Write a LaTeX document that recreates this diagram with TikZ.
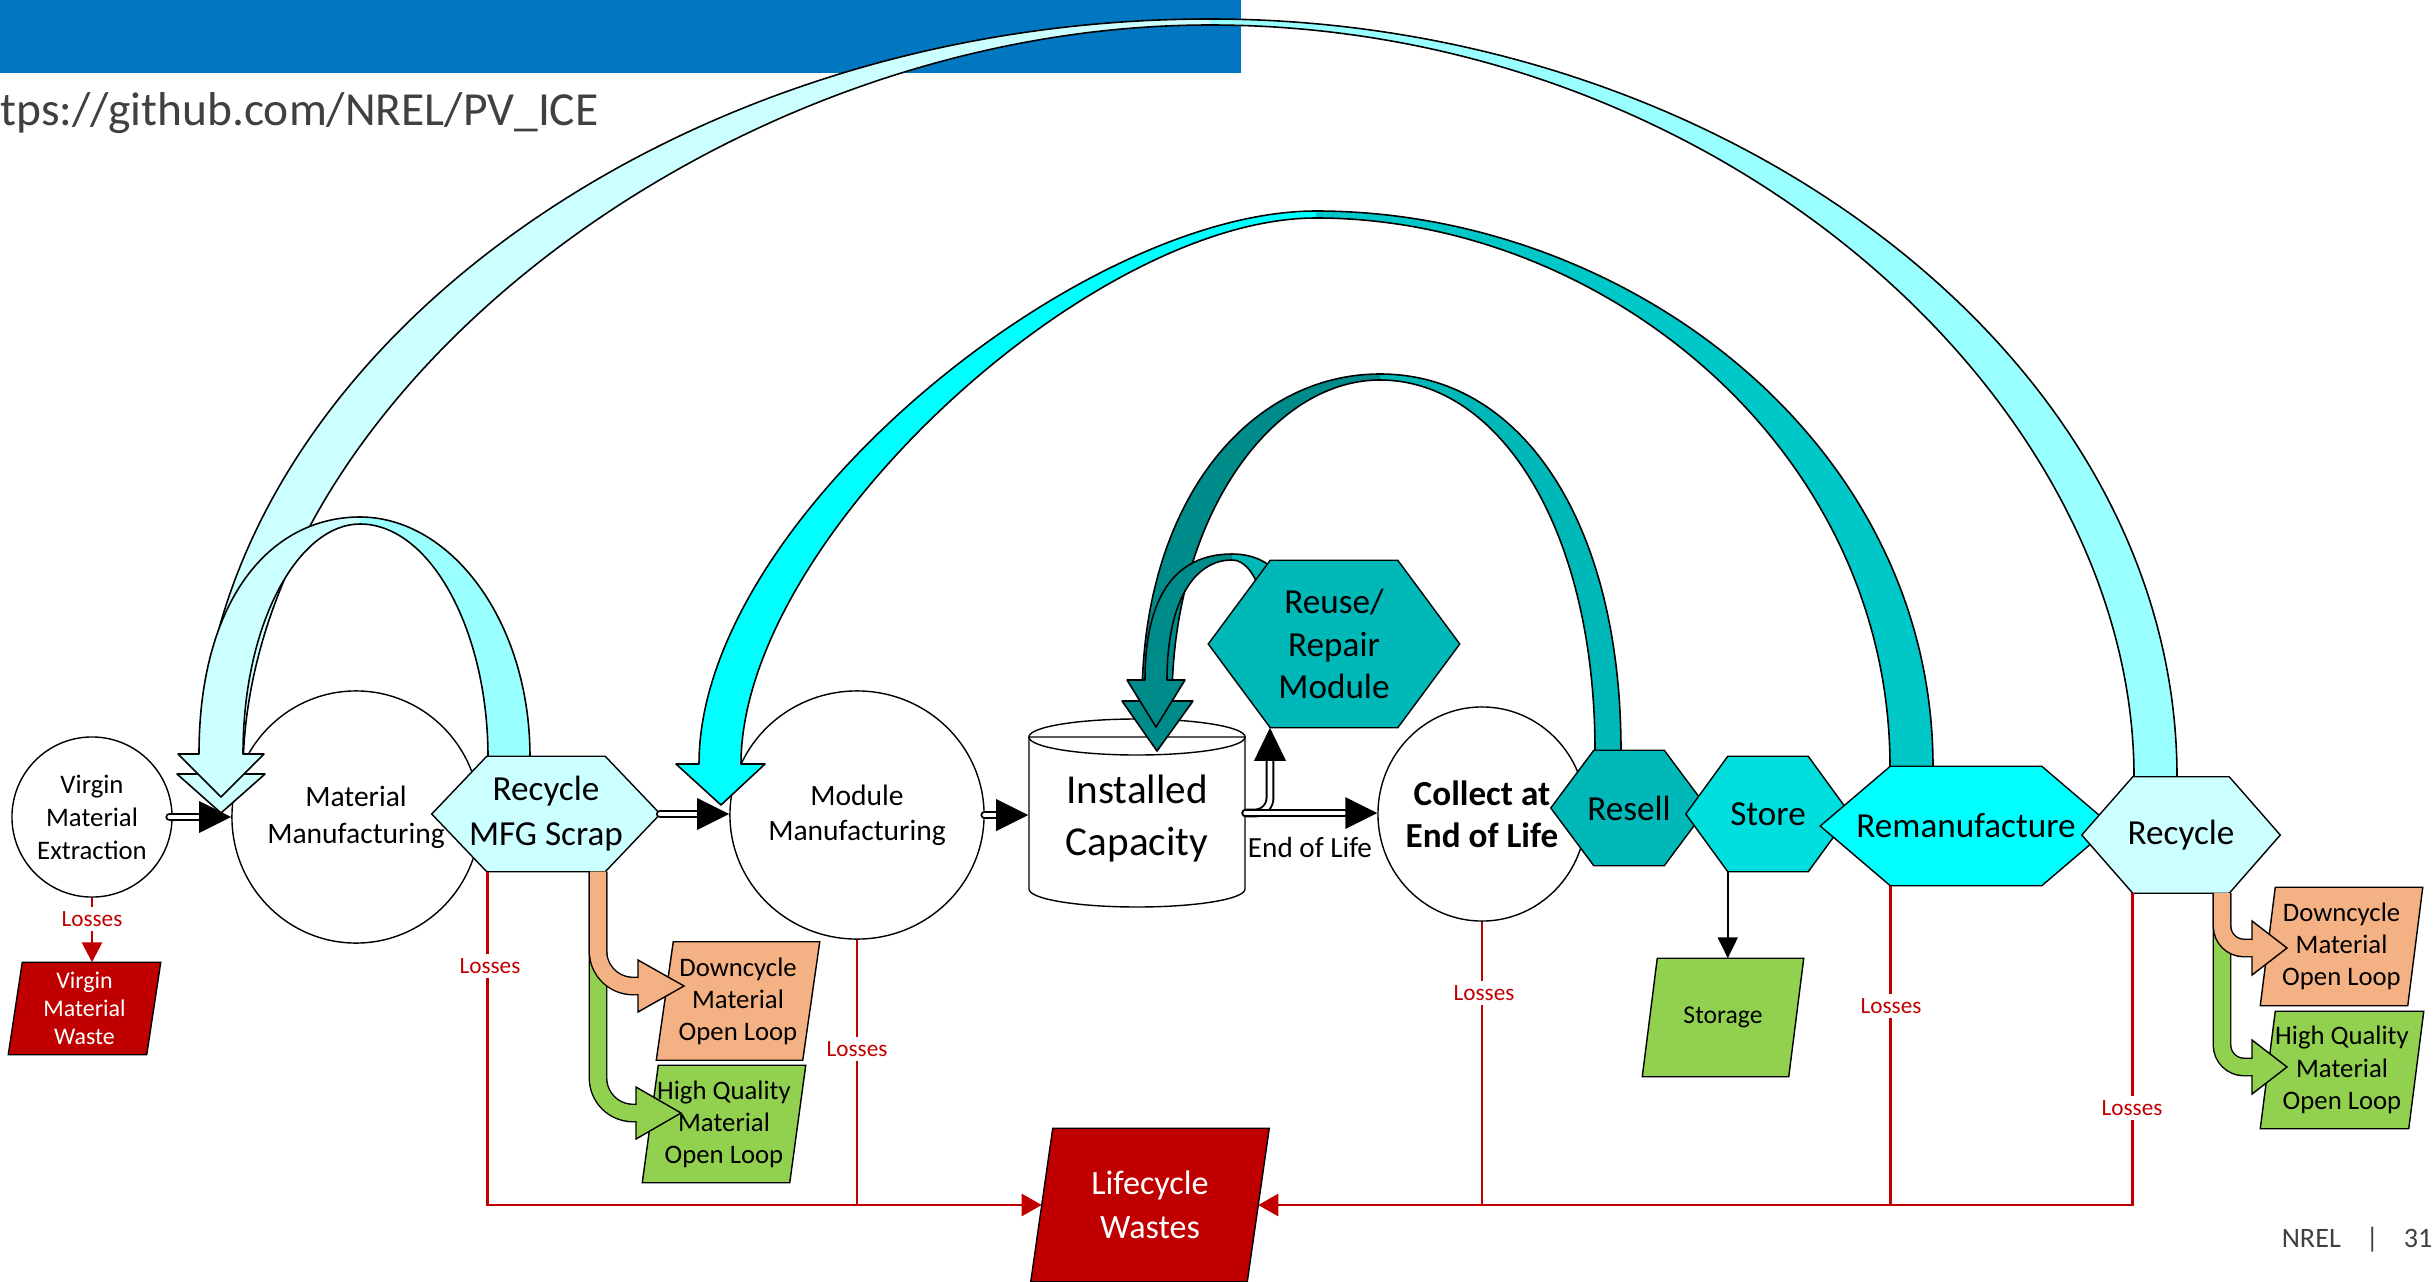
\documentclass[tikz,border=0pt]{standalone}
\usepackage{fontspec}
\setmainfont{Carlito}
\usetikzlibrary{arrows.meta}
\definecolor{cBanner}{HTML}{0077C0}
\definecolor{cGray}{HTML}{404040}
\definecolor{cLight}{HTML}{CCFFFF}
\definecolor{cLightB}{HTML}{99FFFF}
\definecolor{cCyan}{HTML}{00FFFF}
\definecolor{cCyanD}{HTML}{00C8C8}
\definecolor{cTeal}{HTML}{00B8B8}
\definecolor{cTealD}{HTML}{008B8B}
\definecolor{cStore}{HTML}{00DEDE}
\definecolor{cOrange}{HTML}{F4B183}
\definecolor{cGreen}{HTML}{92D050}
\definecolor{cRed}{HTML}{C00000}
\newcommand\myfs[2]{\fontsize{#1pt}{#2pt}\selectfont}
\newcommand\hexa[3]{\filldraw[fill=#3, outl] (#1.west) -- ([xshift=#2]#1.north west) -- ([xshift=-#2]#1.north east) -- (#1.east) -- ([xshift=-#2]#1.south east) -- ([xshift=#2]#1.south west) -- cycle;}
\newcommand\para[3]{\filldraw[fill=#3, outl] ([xshift=#2]#1.north west) -- (#1.north east) -- ([xshift=-#2]#1.south east) -- (#1.south west) -- cycle;}
\newcommand\rhead[1]{\fill[black] (#1) -- ++(-32,-16) -- ++(0,32) -- cycle;}
\pgfdeclarelayer{bg}
\pgfsetlayers{bg,main}
\begin{document}
\begin{tikzpicture}[x=0.01cm,y=-0.01cm,
  lbl/.style={inner sep=0pt, align=center, text=black},
  loss/.style={fill=white, inner sep=1.2pt, text=cRed, font=\myfs{6.6}{8}},
  dbl/.style={draw=black, double=white, line width=0.55pt, double distance=1.4pt, line cap=round},
  redl/.style={draw=cRed, line width=0.8pt},
  outl/.style={draw=black, line width=0.4pt},
  band/.style={draw=black, line width=0.45pt, line join=round},
  flow/.style={draw=black, line width=0.4pt, double distance=1.6mm}]
\useasboundingbox (0,0) rectangle (2433,1282);

% ---------- text nodes ----------
\node[anchor=west, inner sep=0pt, text=cGray, font=\myfs{13.5}{16}] (url) at (0,113) {tps://github.com/NREL/PV\_ICE};
\node[anchor=east, inner sep=0pt, text=cGray, font=\myfs{8}{10}] (nrel) at (2433,1240) {NREL\hspace{2.5mm}|\hspace{2.5mm}31};

\node[lbl, minimum width=1.60cm, minimum height=1.60cm, font=\myfs{7.6}{9.4}] (virgin) at (92,817) {Virgin\\Material\\Extraction};
\node[lbl, minimum width=2.48cm, minimum height=2.52cm, font=\myfs{8.4}{10.5}] (mm) at (356,817) {Material\\Manufacturing};
\node[lbl, minimum width=2.27cm, minimum height=1.14cm, font=\myfs{10}{12.8}] (scrap) at (546,814) {Recycle\\MFG Scrap};
\node[lbl, minimum width=2.54cm, minimum height=2.48cm, font=\myfs{8.4}{10}] (module) at (857,815) {Module\\Manufacturing};
\node[lbl, minimum width=2.16cm, minimum height=1.88cm] (inst) at (1137,813) {};
\node[lbl, font=\myfs{11.7}{14.8}] (instT) at (1137,819) {Installed\\Capacity};
\node[lbl, minimum width=2.50cm, minimum height=1.66cm, font=\myfs{10}{12.2}] (reuse) at (1334,644) {Reuse/\\Repair\\Module};
\node[lbl, minimum width=2.08cm, minimum height=2.14cm, font=\myfs{10}{12}\bfseries] (collect) at (1482,814) {Collect at\\End of Life};
\node[lbl, minimum width=1.55cm, minimum height=1.14cm, font=\myfs{10}{12}] (resell) at (1629,808) {Resell};
\node[lbl, minimum width=1.63cm, minimum height=1.14cm, font=\myfs{10}{12}] (store) at (1768,814) {Store};
\node[lbl, minimum width=2.90cm, minimum height=1.18cm, font=\myfs{10}{12}] (reman) at (1966,826) {Remanufacture};
\node[lbl, minimum width=1.97cm, minimum height=1.15cm, font=\myfs{10}{12}] (recyc) at (2181,835) {Recycle};
\node[lbl, minimum width=1.51cm, minimum height=0.91cm, text=white, font=\myfs{6.8}{8}] (vwaste) at (84.5,1008.5) {Virgin\\Material\\Waste};
\node[lbl, minimum width=1.62cm, minimum height=1.17cm, font=\myfs{7.6}{9.1}] (down1) at (738,1001) {Downcycle\\Material\\Open Loop};
\node[lbl, minimum width=1.62cm, minimum height=1.16cm, font=\myfs{7.6}{9.1}] (hq1) at (724,1124) {High Quality\\Material\\Open Loop};
\node[lbl, minimum width=1.60cm, minimum height=1.17cm, font=\myfs{7.3}{9}] (storage) at (1723,1017.5) {Storage};
\node[lbl, minimum width=2.37cm, minimum height=1.52cm, text=white, font=\myfs{9.7}{12.5}] (lcw) at (1150,1205) {Lifecycle\\Wastes};
\node[lbl, minimum width=1.61cm, minimum height=1.17cm, font=\myfs{7.6}{9.2}] (down2) at (2341.5,946.5) {Downcycle\\Material\\Open Loop};
\node[lbl, minimum width=1.62cm, minimum height=1.16cm, font=\myfs{7.6}{9.2}] (hq2) at (2342,1070) {High Quality\\Material\\Open Loop};
\node[lbl, font=\myfs{8.3}{10}] (eol) at (1310,847) {End of Life};

\node[loss] (l0) at (92,919) {Losses};
\node[loss] (l1) at (490,966) {Losses};
\node[loss] (l2) at (857,1049) {Losses};
\node[loss] (l3) at (1484,993) {Losses};
\node[loss] (l4) at (1891,1006) {Losses};
\node[loss] (l5) at (2132,1108) {Losses};

\coordinate (rb) at ([xshift=-6.4mm]reuse.south);
\coordinate (scrapL) at ([xshift=5.6mm]scrap.south west);
\coordinate (remanL) at ([xshift=7mm]reman.south west);
\coordinate (recycL) at ([xshift=5.1mm]recyc.south west);
\coordinate (storeL) at ([xshift=4.2mm]store.south west);

\begin{pgfonlayer}{bg}
% banner
\fill[cBanner] (0,0) rectangle (1241,73);
% round shapes
\filldraw[fill=white, outl] (virgin.center) ellipse [x radius=0.80cm, y radius=0.80cm];
\filldraw[fill=white, outl] (mm.center) ellipse [x radius=1.24cm, y radius=1.26cm];
\filldraw[fill=white, outl] (module.center) ellipse [x radius=1.27cm, y radius=1.24cm];
\filldraw[fill=white, outl] (collect.center) ellipse [x radius=1.04cm, y radius=1.07cm];
% cylinder
\filldraw[fill=white, outl] (1029,737) -- (1029,889) .. controls (1029,899) and (1077,907) .. (1137,907) .. controls (1197,907) and (1245,899) .. (1245,889) -- (1245,737) -- cycle;
\draw[outl] (1137,737) ellipse [x radius=1.08cm, y radius=0.18cm];

% ---------- curved return arrows ----------
% Recycle -> Material Manufacturing
\filldraw[band, fill=cLight] (1210,19) .. controls (660,19) and (199,370) .. (199,774) -- (177,774) -- (221,813) -- (265,774) -- (243,774) .. controls (243,400) and (720,25) .. (1210,25);
\filldraw[band, fill=cLightB] (1210,19) .. controls (1725,19) and (2177,357) .. (2177,777) -- (2134,777) .. controls (2134,400) and (1720,25) .. (1210,25);
% Recycle MFG Scrap -> Material Manufacturing
\filldraw[band, fill=cLight] (360,517) .. controls (270,517) and (199,600) .. (199,754) -- (178,754) -- (221,797) -- (264,754) -- (243,754) .. controls (243,620) and (300,524) .. (360,524);
\filldraw[band, fill=cLightB] (360,517) .. controls (450,517) and (530,620) .. (530,757) -- (488,757) .. controls (488,630) and (430,524) .. (360,524);
% Remanufacture -> Module Manufacturing
\filldraw[band, fill=cCyan] (1316,211) .. controls (1080,211) and (699,520) .. (699,764) -- (676,764) -- (721,805) -- (765,764) -- (741,764) .. controls (741,540) and (1090,218) .. (1316,218);
\filldraw[band, fill=cCyanD] (1316,211) .. controls (1625,211) and (1933,440) .. (1933,767) -- (1890,767) .. controls (1890,450) and (1605,218) .. (1316,218);
% Resell -> Installed Capacity
\filldraw[band, fill=cTealD] (1380,374) .. controls (1250,374) and (1142,500) .. (1142,701) -- (1122,701) -- (1157,751) -- (1193,701) -- (1172,701) .. controls (1172,520) and (1270,380) .. (1380,380);
\filldraw[band, fill=cTeal] (1380,374) .. controls (1520,374) and (1621,520) .. (1621,751) -- (1595,751) .. controls (1595,530) and (1500,380) .. (1380,380);
% Reuse/Repair -> Installed Capacity
\filldraw[band, fill=cTealD] (1232,554) .. controls (1180,554) and (1145,590) .. (1145,680) -- (1127,680) -- (1156,727) -- (1185,680) -- (1167,680) .. controls (1167,600) and (1195,560) .. (1232,560);
\filldraw[band, fill=cTeal] (1232,554) .. controls (1258,554) and (1276,566) .. (1286,586) -- (1262,596) .. controls (1255,574) and (1245,560) .. (1232,560);

% ---------- hexagons ----------
\hexa{scrap}{5.5mm}{cLight}
\hexa{reuse}{6.2mm}{cTeal}
\hexa{resell}{4.3mm}{cTeal}
\hexa{store}{4.2mm}{cStore}
\hexa{reman}{7mm}{cCyan}
\hexa{recyc}{5.1mm}{cLight}

% ---------- parallelograms ----------
\para{vwaste}{1.4mm}{cRed}
\para{down1}{1.7mm}{cOrange}
\para{hq1}{1.6mm}{cGreen}
\para{storage}{1.5mm}{cGreen}
\para{lcw}{2.2mm}{cRed}
\para{down2}{1.5mm}{cOrange}
\para{hq2}{1.5mm}{cGreen}

% ---------- open loop arrows ----------
\draw[flow, double=cGreen, rounded corners=3.5mm] ([xshift=5.2mm]scrap.south) -- (598,1113) -- (636,1113);
\filldraw[fill=cGreen, outl] (636,1105) -- (636,1087) -- (681,1113) -- (636,1139) -- (636,1121);
\draw[flow, double=cOrange, rounded corners=3.5mm] ([xshift=5.2mm]scrap.south) -- (598,986) -- (638,986);
\filldraw[fill=cOrange, outl] (638,978) -- (638,960) -- (684,986) -- (638,1012) -- (638,994);

\draw[flow, double=cGreen, rounded corners=2.2mm] ([xshift=4.1mm]recyc.south) -- (2222,1067) -- (2252,1067);
\filldraw[fill=cGreen, outl] (2252,1059) -- (2252,1040) -- (2287,1067) -- (2252,1094) -- (2252,1075);
\draw[flow, double=cOrange, rounded corners=2.2mm] ([xshift=4.1mm]recyc.south) -- (2222,948) -- (2252,948);
\filldraw[fill=cOrange, outl] (2252,940) -- (2252,921) -- (2287,948) -- (2252,975) -- (2252,956);

% ---------- main flow (double lines) ----------
\draw[dbl] ([xshift=-0.3mm]virgin.east) -- ([xshift=-3.2mm]mm.west);
\rhead{mm.west}
\draw[dbl] (scrap.east) -- ([xshift=-3.2mm]scrap.east -| module.west);
\rhead{scrap.east -| module.west}
\draw[dbl] (module.east) -- ([xshift=-3.2mm]module.east -| inst.west);
\rhead{module.east -| inst.west}
\draw[dbl, rounded corners=1.5mm] (inst.east) -- (inst.east -| rb) -- ([yshift=-3.3mm]rb);
\draw[dbl] (inst.east) -- ([xshift=-3.3mm]inst.east -| collect.west);
\rhead{inst.east -| collect.west}
\fill[black] (rb) -- ++(-16,33) -- ++(32,0) -- cycle;

% ---------- losses ----------
\draw[redl, -{Triangle[length=2mm, width=2mm]}] (virgin.south) -- (virgin.south |- vwaste.north);
\draw[redl, -{Triangle[length=2mm, width=2.2mm]}] (scrapL) |- ([xshift=1.1mm]lcw.west);
\draw[redl] (module.south) -- (module.south |- lcw.west);
\draw[redl] (collect.south) -- (collect.south |- lcw.west);
\draw[redl] (remanL) -- (remanL |- lcw.west);
\draw[redl, -{Triangle[length=2mm, width=2.2mm]}] (recycL) |- ([xshift=-1.1mm]lcw.east);

% store -> storage
\draw[line width=0.6pt, -{Triangle[length=2.1mm, width=2mm]}] (storeL) -- (storeL |- storage.north);
\end{pgfonlayer}
\end{tikzpicture}
\end{document}
